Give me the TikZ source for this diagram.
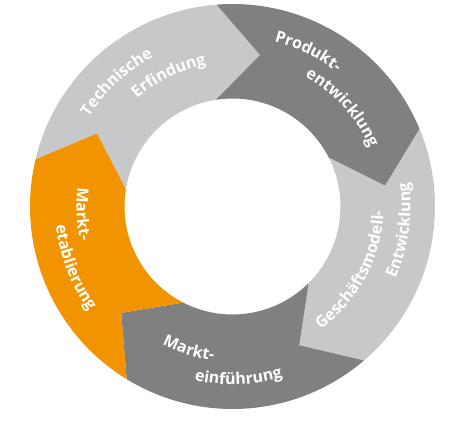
\documentclass[tikz,border=0pt]{standalone}
\usepackage{fontspec}
\setmainfont{Open Sans}
\usetikzlibrary{decorations.text}

\definecolor{lightgrey}{HTML}{C6C8CA}
\definecolor{darkgrey}{HTML}{808080}
\definecolor{ringorange}{HTML}{F29400}
\newcommand{\ringfont}{\fontsize{16}{16}\selectfont\bfseries}

\tikzset{
	ringtext/.style={decorate, decoration={text along path, text align=center, text color=white, text={|\ringfont|#1}}}
}

\begin{document}
\begin{tikzpicture}
	\useasboundingbox (-232.5pt,-227.5pt) rectangle (226.5pt,206.5pt);
	% five arrow segments, clockwise from top left
	\foreach \col [count=\k from 0] in {lightgrey,darkgrey,lightgrey,darkgrey,ringorange}{
		\pgfmathsetmacro\a{166.5-72*\k}
		\pgfmathsetmacro\b{\a-72}
		\pgfmathsetmacro\ta{\a-14.8}
		\pgfmathsetmacro\tb{\b-14.8}
		\pgfmathsetmacro\ia{\a+4.3}
		\pgfmathsetmacro\ib{\b+4.3}
		\fill[\col] (\a:202.5pt) arc[start angle=\a, end angle=\b, radius=202.5pt]
			-- (\tb:154pt) -- (\ib:108pt) arc[start angle=\ib, end angle=\ia, radius=108pt]
			-- (\ta:154pt) -- cycle;
	}
	% labels
	\path[ringtext=Technische] (173:169pt) arc[start angle=173, end angle=93, radius=169pt];
	\path[ringtext=Erfindung] (156:144pt) arc[start angle=156, end angle=76, radius=144pt];
	\path[ringtext=Produkt-] (104:170pt) arc[start angle=104, end angle=24, radius=170pt];
	\path[ringtext=entwicklung] (82:149pt) arc[start angle=82, end angle=2, radius=149pt];
	\path[ringtext=Geschäftsmodell-] (-68:151pt) arc[start angle=-68, end angle=12, radius=151pt];
	\path[ringtext=Entwicklung] (-48:178pt) arc[start angle=-48, end angle=32, radius=178pt];
	\path[ringtext=Markt-] (213:155pt) arc[start angle=213, end angle=293, radius=155pt];
	\path[ringtext=einführung] (232:178pt) arc[start angle=232, end angle=312, radius=178pt];
	\path[ringtext=Markt-] (143:156pt) arc[start angle=143, end angle=223, radius=156pt];
	\path[ringtext=etablierung] (161:177.5pt) arc[start angle=161, end angle=241, radius=177.5pt];
\end{tikzpicture}
\end{document}
